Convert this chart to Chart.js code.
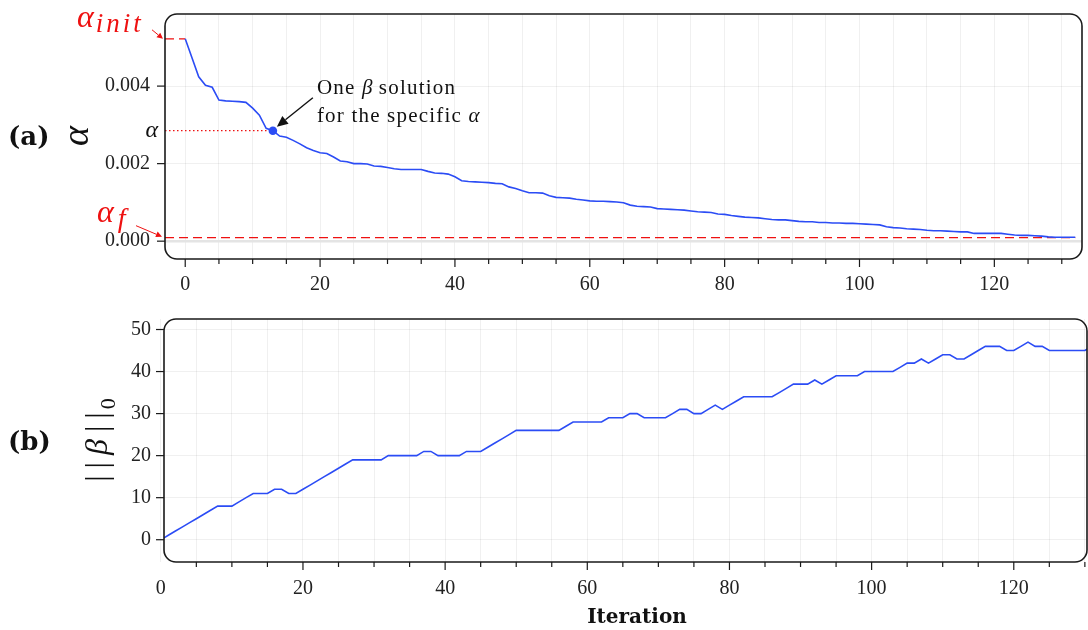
<!DOCTYPE html>
<html>
<head>
<meta charset="utf-8">
<script src="https://cdn.jsdelivr.net/npm/chart.js@4.4.0/dist/chart.umd.min.js"></script>
<style>
  html, body { margin: 0; padding: 0; background: #fff; }
  #wrap { position: relative; width: 1088px; height: 630px; overflow: hidden; }
  #topBox { position: absolute; left: 0; top: 0; }
  #botBox { position: absolute; left: 0; top: 300px; }
</style>
</head>
<body>
<div id="wrap">
  <div id="topBox"><canvas id="alphaChart" width="1088" height="300"></canvas></div>
  <div id="botBox"><canvas id="betaChart" width="1088" height="330"></canvas></div>
</div>
<script>
// alpha value at each iteration (panel a)
const alphaValues = [
  0.00522, 0.00473, 0.00424, 0.00402, 0.00397, 0.00364, 0.00362, 0.00361, 0.00360, 0.00358,
  0.00343, 0.00325, 0.00291, 0.00285, 0.00271, 0.00268, 0.00260, 0.00251, 0.00241, 0.00234,
  0.00228, 0.00226, 0.00217, 0.00207, 0.00205, 0.00200, 0.00200, 0.00199, 0.00194, 0.00193,
  0.00190, 0.00187, 0.00185, 0.00185, 0.00185, 0.00185, 0.00180, 0.00176, 0.00175, 0.00173,
  0.00166, 0.00156, 0.00154, 0.00153, 0.00152, 0.00151, 0.00149, 0.00148, 0.00140, 0.00136,
  0.00130, 0.00125, 0.00125, 0.00124, 0.00117, 0.00113, 0.00112, 0.00111, 0.00108, 0.00106,
  0.00104, 0.00103, 0.00103, 0.00102, 0.00101, 0.00099, 0.00093, 0.00090, 0.00089, 0.00088,
  0.00084, 0.00083, 0.00082, 0.00081, 0.00080, 0.00078, 0.00076, 0.00075, 0.00074, 0.00070,
  0.00069, 0.00066, 0.00064, 0.00062, 0.00061, 0.00060, 0.00058, 0.00056, 0.00055, 0.00055,
  0.00053, 0.00051, 0.00050, 0.00050, 0.00048, 0.00048, 0.00047, 0.00047, 0.00046, 0.00046,
  0.00045, 0.00044, 0.00043, 0.00042, 0.00037, 0.00035, 0.00034, 0.00032, 0.00031, 0.00030,
  0.00028, 0.00027, 0.00027, 0.00026, 0.00025, 0.00024, 0.00024, 0.00020, 0.00020, 0.00020,
  0.00020, 0.00020, 0.00018, 0.00016, 0.00015, 0.00015, 0.00014, 0.00013, 0.00011, 0.00010,
  0.00010, 0.00010, 0.00010
];

// ||beta||_0 at each iteration (panel b)
const betaNorm = [
  0, 1, 2, 3, 4, 5, 6, 7, 8, 8,
  8, 9, 10, 11, 11, 11, 12, 12, 11, 11,
  12, 13, 14, 15, 16, 17, 18, 19, 19, 19,
  19, 19, 20, 20, 20, 20, 20, 21, 21, 20,
  20, 20, 20, 21, 21, 21, 22, 23, 24, 25,
  26, 26, 26, 26, 26, 26, 26, 27, 28, 28,
  28, 28, 28, 29, 29, 29, 30, 30, 29, 29,
  29, 29, 30, 31, 31, 30, 30, 31, 32, 31,
  32, 33, 34, 34, 34, 34, 34, 35, 36, 37,
  37, 37, 38, 37, 38, 39, 39, 39, 39, 40,
  40, 40, 40, 40, 41, 42, 42, 43, 42, 43,
  44, 44, 43, 43, 44, 45, 46, 46, 46, 45,
  45, 46, 47, 46, 46, 45, 45, 45, 45, 45,
  45, 46, 46
];

const iterations = alphaValues.map((_, i) => i);
const selectedIter = 13;          // the highlighted beta solution
const alphaFinal = 0.00009;       // alpha_f level
const iterationLabels = [0, 20, 40, 60, 80, 100, 120];

const BLUE = '#2b4cf5';
const RED = '#ee1111';
const GRID = 'rgba(0,0,0,0.06)';
const SERIF = '"Liberation Serif", "DejaVu Serif", serif';
const tickFont = { family: SERIF, size: 20 };

function drawRuns(ctx, parts, x, y, align) {
  ctx.textBaseline = 'alphabetic';
  ctx.textAlign = 'left';
  let total = 0;
  parts.forEach(p => {
    ctx.font = p.font;
    ctx.letterSpacing = p.ls || '0px';
    total += ctx.measureText(p.t).width + (p.gap || 0);
  });
  let cx = align === 'center' ? x - total / 2 : (align === 'right' ? x - total : x);
  parts.forEach(p => {
    ctx.font = p.font;
    ctx.letterSpacing = p.ls || '0px';
    ctx.fillStyle = p.color || '#111';
    ctx.fillText(p.t, cx, y + (p.dy || 0));
    cx += ctx.measureText(p.t).width + (p.gap || 0);
  });
  ctx.letterSpacing = '0px';
}

function arrow(ctx, x1, y1, x2, y2, color, head, half, lw) {
  const a = Math.atan2(y2 - y1, x2 - x1);
  const bx = x2 - head * Math.cos(a), by = y2 - head * Math.sin(a);
  ctx.save();
  ctx.strokeStyle = color; ctx.fillStyle = color; ctx.lineWidth = lw;
  ctx.beginPath(); ctx.moveTo(x1, y1); ctx.lineTo(bx, by); ctx.stroke();
  ctx.beginPath();
  ctx.moveTo(x2, y2);
  ctx.lineTo(bx + half * Math.sin(a), by - half * Math.cos(a));
  ctx.lineTo(bx - half * Math.sin(a), by + half * Math.cos(a));
  ctx.closePath(); ctx.fill();
  ctx.restore();
}

// rounded box + outward tick marks
function drawFrame(chart) {
  const { ctx, chartArea: a, scales: { x, y } } = chart;
  ctx.save();
  ctx.strokeStyle = '#1a1a1a';
  ctx.lineWidth = 1.6;
  ctx.beginPath();
  ctx.roundRect(a.left, a.top, a.right - a.left, a.bottom - a.top, 12);
  ctx.stroke();
  ctx.lineWidth = 1.2;
  x.ticks.forEach(t => {
    const px = x.getPixelForValue(t.value);
    if (px < a.left + 3 || px > a.right + 1) return;
    const len = t.value % 20 === 0 ? 8 : 5;
    ctx.beginPath(); ctx.moveTo(px, a.bottom); ctx.lineTo(px, a.bottom + len); ctx.stroke();
  });
  y.ticks.forEach(t => {
    const py = y.getPixelForValue(t.value);
    ctx.beginPath(); ctx.moveTo(a.left, py); ctx.lineTo(a.left - 8, py); ctx.stroke();
  });
  ctx.restore();
}

const topDeco = {
  id: 'topDeco',
  afterDraw(chart) {
    const { ctx, chartArea: a, scales: { x, y } } = chart;
    drawFrame(chart);
    const dx = x.getPixelForValue(selectedIter);
    const dy = y.getPixelForValue(alphaValues[selectedIter]);
    const yInit = y.getPixelForValue(alphaValues[0]);
    const yFin = y.getPixelForValue(alphaFinal);

    // panel tag and y title
    drawRuns(ctx, [{ t: '(a)', font: 'bold 26px "DejaVu Serif"' }], 8, 145, 'left');
    ctx.save();
    ctx.translate(80, 136);
    ctx.rotate(-Math.PI / 2);
    drawRuns(ctx, [{ t: 'α', font: 'italic 38px ' + SERIF }], 0, 8, 'center');
    ctx.restore();

    // alpha mark on the y axis
    drawRuns(ctx, [{ t: 'α', font: 'italic 24px ' + SERIF }], a.left - 7, dy + 6, 'right');

    // annotation
    const f = '21px ' + SERIF, fi = 'italic 21px ' + SERIF;
    drawRuns(ctx, [{ t: 'One ', font: f, ls: '1.2px' }, { t: 'β', font: fi }, { t: ' solution', font: f, ls: '1.2px' }], dx + 44, dy - 37, 'left');
    drawRuns(ctx, [{ t: 'for the specific ', font: f, ls: '1.2px' }, { t: 'α', font: fi }], dx + 44, dy - 9, 'left');
    arrow(ctx, dx + 40, dy - 33, dx + 4, dy - 4, '#111', 11, 5, 1.4);

    // alpha_init / alpha_f labels
    drawRuns(ctx, [{ t: 'α', font: 'italic 32px ' + SERIF, color: RED, gap: 2 },
                   { t: 'init', font: 'italic 27px ' + SERIF, color: RED, dy: 5, ls: '3px' }], 77, yInit - 12, 'left');
    arrow(ctx, 152, yInit - 9, a.left - 2, yInit, RED, 6, 3, 1);
    drawRuns(ctx, [{ t: 'α', font: 'italic 32px ' + SERIF, color: RED, gap: 4 },
                   { t: 'f', font: 'italic 28px ' + SERIF, color: RED, dy: 5 }], 97, yFin - 16, 'left');
    arrow(ctx, 136, yFin - 12, a.left - 3, yFin - 1, RED, 6, 3, 1);
  }
};

const botDeco = {
  id: 'botDeco',
  afterDraw(chart) {
    const { ctx } = chart;
    drawFrame(chart);
    drawRuns(ctx, [{ t: '(b)', font: 'bold 26px "DejaVu Serif"' }], 8, 150, 'left');
    ctx.save();
    ctx.translate(97, 140);
    ctx.rotate(-Math.PI / 2);
    const bf = '32px ' + SERIF;
    drawRuns(ctx, [
      { t: '|', font: bf, gap: 7 }, { t: '|', font: bf, gap: 7 },
      { t: 'β', font: 'italic 32px ' + SERIF, gap: 7 },
      { t: '|', font: bf, gap: 7 }, { t: '|', font: bf, gap: 3 },
      { t: '0', font: '22px ' + SERIF, dy: 8 }
    ], 0, 10, 'center');
    ctx.restore();
    drawRuns(ctx, [{ t: 'Iteration', font: 'bold 20px "DejaVu Serif"' }], 637, 323, 'center');
  }
};

function xAxis(min, max, height, pad, extraZero) {
  return {
    type: 'linear', min: min, max: max,
    border: { display: false },
    grid: { color: GRID, lineWidth: 1, drawTicks: true, tickLength: pad, tickColor: 'rgba(0,0,0,0)' },
    ticks: {
      stepSize: 5, includeBounds: false, autoSkip: false, maxRotation: 0, minRotation: 0,
      padding: 0, font: tickFont, color: '#222',
      callback: v => iterationLabels.includes(v) ? String(v) : ''
    },
    afterBuildTicks: s => { if (extraZero) s.ticks.unshift({ value: 0 }); },
    afterFit: s => { s.height = height; }
  };
}

function yAxis(min, max, step, width, pad, fmt) {
  return {
    type: 'linear', min: min, max: max,
    border: { display: false },
    grid: { color: GRID, lineWidth: 1, drawTicks: true, tickLength: pad, tickColor: 'rgba(0,0,0,0)' },
    ticks: { stepSize: step, includeBounds: false, padding: 0, font: tickFont, color: '#222', callback: fmt },
    afterFit: s => { s.width = width; }
  };
}

const xTopMin = -3, xTopMax = 133;

new Chart(document.getElementById('alphaChart'), {
  type: 'scatter',
  data: {
    datasets: [
      { data: [{ x: selectedIter, y: alphaValues[selectedIter] }], pointRadius: 4.3,
        backgroundColor: BLUE, borderWidth: 0, order: -1 },
      { showLine: true, data: iterations.map((it, i) => ({ x: it, y: alphaValues[i] })),
        borderColor: BLUE, borderWidth: 1.6, pointRadius: 0, order: 0 },
      { showLine: true, data: [{ x: xTopMin, y: alphaValues[0] }, { x: 0, y: alphaValues[0] }],
        borderColor: RED, borderWidth: 1.3, borderDash: [9, 5], pointRadius: 0, order: 1 },
      { showLine: true, data: [{ x: xTopMin, y: alphaFinal }, { x: iterations[iterations.length - 1], y: alphaFinal }],
        borderColor: RED, borderWidth: 1.2, borderDash: [9, 5], pointRadius: 0, order: 1 },
      { showLine: true, data: [{ x: xTopMin, y: alphaValues[selectedIter] }, { x: selectedIter, y: alphaValues[selectedIter] }],
        borderColor: RED, borderWidth: 1.3, borderDash: [1.5, 2.5], pointRadius: 0, order: 1 },
      { showLine: true, data: [{ x: xTopMin, y: 0 }, { x: xTopMax, y: 0 }],
        borderColor: '#e4e4e4', borderWidth: 2.5, pointRadius: 0, order: 5 }
    ]
  },
  options: {
    responsive: false, animation: false, devicePixelRatio: 1, events: [],
    layout: { padding: { left: 0, top: 14, right: 6, bottom: 0 } },
    plugins: { legend: { display: false }, tooltip: { enabled: false } },
    scales: {
      x: xAxis(xTopMin, xTopMax, 41, 14, false),
      y: yAxis(-0.00046, 0.00586, 0.002, 165, 15, v => v.toFixed(3))
    }
  },
  plugins: [topDeco]
});

new Chart(document.getElementById('betaChart'), {
  type: 'scatter',
  data: {
    datasets: [
      { showLine: true, data: iterations.map((it, i) => ({ x: it, y: betaNorm[i] })),
        borderColor: BLUE, borderWidth: 1.6, pointRadius: 0 }
    ]
  },
  options: {
    responsive: false, animation: false, devicePixelRatio: 1, events: [],
    layout: { padding: { left: 0, top: 19, right: 1, bottom: 0 } },
    plugins: { legend: { display: false }, tooltip: { enabled: false } },
    scales: {
      x: xAxis(0.45, 130.3, 68, 15, true),
      y: yAxis(-5.3, 52.5, 10, 164, 13, v => String(v))
    }
  },
  plugins: [botDeco]
});
</script>
</body>
</html>
